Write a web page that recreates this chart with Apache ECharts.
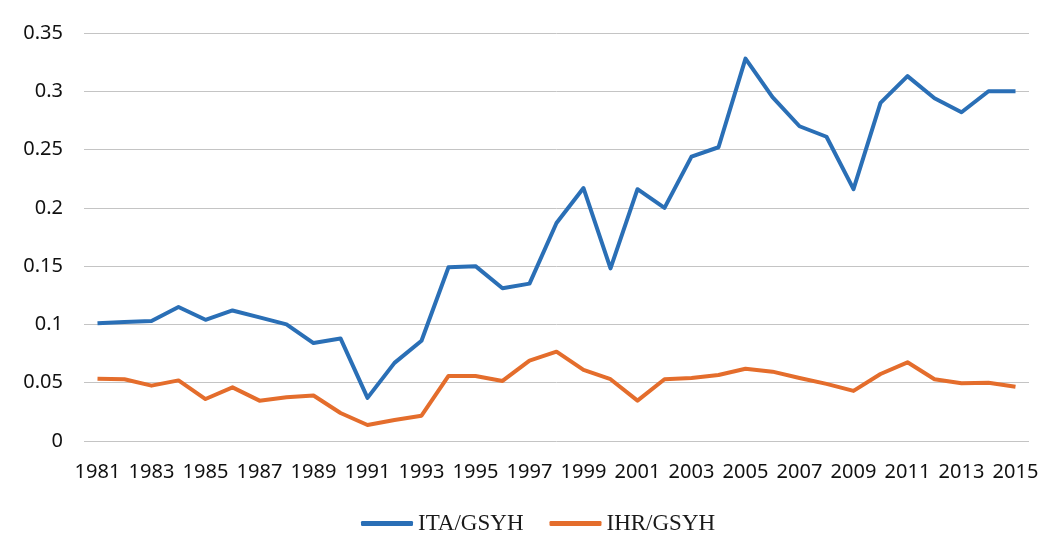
<!DOCTYPE html>
<html>
<head>
<meta charset="utf-8">
<script src="https://cdn.jsdelivr.net/npm/echarts@6/dist/echarts.min.js"></script>
<style>
  html, body { margin: 0; padding: 0; background: #fff; }
  #main { width: 1047px; height: 555px; }
</style>
</head>
<body>
<div id="main"></div>
<script>
// data
var years = [];
for (var y = 1981; y <= 2015; y++) years.push(String(y));

var itaGsyh = [0.101, 0.102, 0.103, 0.115, 0.104, 0.112, 0.106, 0.100, 0.084, 0.088,
               0.037, 0.067, 0.086, 0.149, 0.150, 0.131, 0.135, 0.187, 0.217, 0.148,
               0.216, 0.200, 0.244, 0.252, 0.328, 0.295, 0.270, 0.261, 0.216, 0.290,
               0.313, 0.294, 0.282, 0.300, 0.300];

var ihrGsyh = [0.0535, 0.053, 0.0475, 0.052, 0.036, 0.046, 0.0346, 0.0375, 0.039, 0.024,
               0.0137, 0.018, 0.0217, 0.0558, 0.0558, 0.0515, 0.069, 0.0766, 0.061, 0.053,
               0.0346, 0.053, 0.054, 0.0566, 0.062, 0.0595, 0.054, 0.049, 0.043, 0.0575,
               0.0675, 0.053, 0.0495, 0.050, 0.0466];

var seriesNames = ['ITA/GSYH', 'IHR/GSYH'];
var colors = ['#2a6fb6', '#e46d2c'];

var chart = echarts.init(document.getElementById('main'));

var option = {
    backgroundColor: '#fff',
    animation: false,
    color: colors,
    grid: {
        left: 84,
        right: 18,
        top: 33,
        bottom: 114
    },
    legend: {
        data: [
            { name: seriesNames[0], icon: 'roundRect' },
            { name: seriesNames[1], icon: 'roundRect' }
        ],
        left: 356,
        top: 507,
        itemWidth: 52,
        itemHeight: 5,
        itemGap: 26,
        textStyle: {
            fontFamily: 'Liberation Serif',
            fontSize: 23,
            color: '#1a1a1a'
        }
    },
    xAxis: {
        type: 'category',
        data: years,
        boundaryGap: true,
        axisLine: { show: false },
        axisTick: { show: false },
        axisLabel: {
            interval: 1,
            margin: 21,
            fontFamily: 'Noto Sans',
            fontSize: 20,
            color: '#111'
        }
    },
    yAxis: {
        type: 'value',
        min: 0,
        max: 0.35,
        interval: 0.05,
        axisLine: { show: false },
        axisTick: { show: false },
        axisLabel: {
            margin: 21,
            fontFamily: 'Noto Sans',
            fontSize: 20,
            color: '#111',
            formatter: function (v) {
                return String(Math.round(v * 100) / 100);
            }
        },
        splitLine: {
            lineStyle: { color: '#c4c4c4', width: 1 }
        }
    },
    series: [
        {
            name: seriesNames[0],
            type: 'line',
            data: itaGsyh,
            showSymbol: false,
            symbol: 'none',
            lineStyle: { width: 4, color: colors[0], join: 'round' }
        },
        {
            name: seriesNames[1],
            type: 'line',
            data: ihrGsyh,
            showSymbol: false,
            symbol: 'none',
            lineStyle: { width: 4, color: colors[1], join: 'round' }
        }
    ]
};

chart.setOption(option);
</script>
</body>
</html>
